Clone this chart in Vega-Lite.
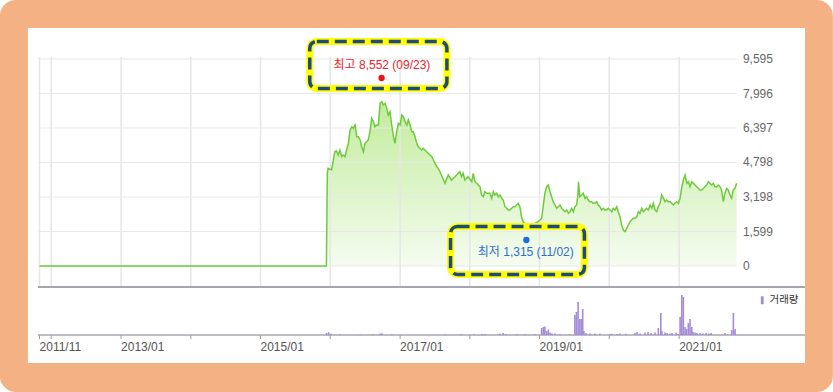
{
  "$schema": "https://vega.github.io/schema/vega-lite/v6.json",
  "width": 767,
  "height": 278,
  "autosize": {"type": "none"},
  "padding": {"left": 38, "top": 57, "right": 28, "bottom": 57},
  "background": "#ffffff",
  "config": {"view": {"stroke": null}, "font": "Liberation Sans", "scale": {"continuousPadding": 0}},
  "datasets": {
    "price": [
      {"d":"2011-11-01","p":0},{"d":"2015-12-12","p":0},{"d":"2015-12-17","p":4311},{"d":"2015-12-21","p":4528},
      {"d":"2016-01-08","p":4450},{"d":"2016-01-16","p":4834},{"d":"2016-01-25","p":5298},{"d":"2016-02-03","p":5344},
      {"d":"2016-02-12","p":5145},{"d":"2016-02-21","p":5377},{"d":"2016-03-01","p":5066},{"d":"2016-03-09","p":5145},
      {"d":"2016-03-18","p":5066},{"d":"2016-03-27","p":5377},{"d":"2016-04-05","p":5687},{"d":"2016-04-14","p":6304},
      {"d":"2016-04-23","p":6457},{"d":"2016-05-01","p":6382},{"d":"2016-05-10","p":6535},{"d":"2016-05-19","p":5993},
      {"d":"2016-05-27","p":5993},{"d":"2016-06-06","p":5840},{"d":"2016-06-14","p":5530},{"d":"2016-06-23","p":5298},
      {"d":"2016-07-01","p":5687},{"d":"2016-07-10","p":5761},{"d":"2016-07-18","p":5840},{"d":"2016-07-27","p":6225},
      {"d":"2016-08-05","p":6846},{"d":"2016-08-14","p":6688},{"d":"2016-08-23","p":6457},{"d":"2016-08-31","p":6535},
      {"d":"2016-09-09","p":6535},{"d":"2016-09-18","p":7541},{"d":"2016-09-27","p":7615},{"d":"2016-10-05","p":7462},
      {"d":"2016-10-14","p":7541},{"d":"2016-10-23","p":7309},{"d":"2016-10-31","p":6999},{"d":"2016-11-09","p":7152},
      {"d":"2016-11-18","p":6535},{"d":"2016-11-27","p":5993},{"d":"2016-12-05","p":5687},{"d":"2016-12-14","p":6225},
      {"d":"2016-12-23","p":6614},{"d":"2017-01-01","p":6535},{"d":"2017-01-10","p":6999},{"d":"2017-01-18","p":6920},
      {"d":"2017-01-27","p":6688},{"d":"2017-02-05","p":6535},{"d":"2017-02-13","p":6767},{"d":"2017-02-22","p":6535},
      {"d":"2017-03-03","p":6225},{"d":"2017-03-11","p":6225},{"d":"2017-03-20","p":5993},{"d":"2017-03-29","p":5687},
      {"d":"2017-04-06","p":5530},{"d":"2017-04-15","p":5455},{"d":"2017-04-24","p":5377},{"d":"2017-05-02","p":5455},
      {"d":"2017-05-11","p":5377},{"d":"2017-05-20","p":5298},{"d":"2017-05-28","p":5224},{"d":"2017-06-07","p":5145},
      {"d":"2017-06-16","p":5066},{"d":"2017-06-24","p":4913},{"d":"2017-07-03","p":4760},{"d":"2017-07-12","p":4603},
      {"d":"2017-07-20","p":4528},{"d":"2017-07-29","p":4371},{"d":"2017-08-24","p":3833},{"d":"2017-09-10","p":4218},
      {"d":"2017-09-27","p":3986},{"d":"2017-10-15","p":4139},{"d":"2017-11-01","p":4297},{"d":"2017-11-10","p":4371},
      {"d":"2017-11-19","p":4139},{"d":"2017-11-27","p":4297},{"d":"2017-12-06","p":3986},{"d":"2017-12-23","p":4139},
      {"d":"2018-01-11","p":3907},{"d":"2018-01-19","p":4297},{"d":"2018-01-28","p":3907},{"d":"2018-02-06","p":3833},
      {"d":"2018-02-23","p":3676},{"d":"2018-03-04","p":3291},{"d":"2018-03-13","p":3212},{"d":"2018-03-21","p":3444},
      {"d":"2018-03-30","p":3370},{"d":"2018-04-16","p":3370},{"d":"2018-04-25","p":3138},{"d":"2018-05-04","p":3444},
      {"d":"2018-05-12","p":3291},{"d":"2018-05-21","p":3370},{"d":"2018-05-30","p":3212},{"d":"2018-06-08","p":3291},
      {"d":"2018-06-17","p":3138},{"d":"2018-06-25","p":3059},{"d":"2018-07-04","p":2749},{"d":"2018-07-13","p":2674},
      {"d":"2018-07-21","p":2596},{"d":"2018-07-30","p":2596},{"d":"2018-08-08","p":2674},{"d":"2018-08-16","p":2749},
      {"d":"2018-08-25","p":2749},{"d":"2018-09-03","p":2827},{"d":"2018-09-11","p":2906},{"d":"2018-09-20","p":2749},
      {"d":"2018-09-29","p":2285},{"d":"2018-10-07","p":2053},{"d":"2018-10-16","p":1979},{"d":"2018-10-27","p":1854},
      {"d":"2018-11-11","p":1808},{"d":"2018-11-29","p":1900},{"d":"2018-12-07","p":1979},{"d":"2018-12-25","p":2053},
      {"d":"2019-01-03","p":2132},{"d":"2019-01-12","p":2211},{"d":"2019-01-20","p":2749},{"d":"2019-01-29","p":3370},
      {"d":"2019-02-07","p":3676},{"d":"2019-02-16","p":3754},{"d":"2019-02-25","p":3444},{"d":"2019-03-05","p":3212},
      {"d":"2019-03-14","p":2980},{"d":"2019-03-23","p":2827},{"d":"2019-04-01","p":2674},{"d":"2019-04-09","p":2749},
      {"d":"2019-04-18","p":2827},{"d":"2019-04-27","p":2674},{"d":"2019-05-06","p":2596},{"d":"2019-05-14","p":2517},
      {"d":"2019-05-23","p":2596},{"d":"2019-06-01","p":2443},{"d":"2019-06-09","p":2517},{"d":"2019-06-18","p":2674},
      {"d":"2019-06-27","p":2517},{"d":"2019-07-05","p":2749},{"d":"2019-07-14","p":2827},{"d":"2019-07-21","p":3291},
      {"d":"2019-07-24","p":3907},{"d":"2019-07-31","p":3212},{"d":"2019-08-10","p":3291},{"d":"2019-08-18","p":3370},
      {"d":"2019-08-27","p":3138},{"d":"2019-09-05","p":3212},{"d":"2019-09-13","p":3059},{"d":"2019-09-22","p":2980},
      {"d":"2019-10-01","p":2980},{"d":"2019-10-09","p":2906},{"d":"2019-10-18","p":2906},{"d":"2019-10-27","p":2980},
      {"d":"2019-11-04","p":2827},{"d":"2019-11-13","p":2749},{"d":"2019-11-22","p":2596},{"d":"2019-12-01","p":2674},
      {"d":"2019-12-09","p":2596},{"d":"2019-12-18","p":2596},{"d":"2019-12-27","p":2674},{"d":"2020-01-05","p":2596},
      {"d":"2020-01-14","p":2517},{"d":"2020-01-22","p":2674},{"d":"2020-01-31","p":2596},{"d":"2020-02-09","p":2749},
      {"d":"2020-02-17","p":2517},{"d":"2020-02-26","p":2285},{"d":"2020-03-06","p":1900},{"d":"2020-03-15","p":1669},
      {"d":"2020-03-24","p":1590},{"d":"2020-04-01","p":1747},{"d":"2020-04-10","p":1900},{"d":"2020-04-19","p":2053},
      {"d":"2020-04-27","p":2132},{"d":"2020-05-06","p":2211},{"d":"2020-05-15","p":2211},{"d":"2020-05-24","p":2285},
      {"d":"2020-06-02","p":2517},{"d":"2020-06-10","p":2443},{"d":"2020-06-19","p":2674},{"d":"2020-06-28","p":2517},
      {"d":"2020-07-06","p":2596},{"d":"2020-07-15","p":2674},{"d":"2020-07-24","p":2596},{"d":"2020-08-02","p":2827},
      {"d":"2020-08-11","p":2674},{"d":"2020-08-19","p":2906},{"d":"2020-08-28","p":2596},{"d":"2020-09-06","p":2517},
      {"d":"2020-09-14","p":2749},{"d":"2020-09-23","p":2906},{"d":"2020-10-02","p":3291},{"d":"2020-10-11","p":3138},
      {"d":"2020-10-19","p":2980},{"d":"2020-10-28","p":3059},{"d":"2020-11-06","p":2980},{"d":"2020-11-14","p":2980},
      {"d":"2020-11-23","p":2906},{"d":"2020-12-02","p":2827},{"d":"2020-12-10","p":2906},{"d":"2020-12-19","p":2980},
      {"d":"2020-12-28","p":2906},{"d":"2021-01-06","p":3138},{"d":"2021-01-15","p":3676},{"d":"2021-01-23","p":3986},
      {"d":"2021-02-01","p":4218},{"d":"2021-02-10","p":3833},{"d":"2021-02-19","p":3907},{"d":"2021-02-27","p":3676},
      {"d":"2021-03-08","p":3907},{"d":"2021-03-16","p":3833},{"d":"2021-03-25","p":3754},{"d":"2021-04-03","p":3676},
      {"d":"2021-04-11","p":3601},{"d":"2021-04-20","p":3523},{"d":"2021-04-29","p":3523},{"d":"2021-05-08","p":3601},
      {"d":"2021-05-16","p":3676},{"d":"2021-05-25","p":3754},{"d":"2021-06-03","p":3907},{"d":"2021-06-11","p":3833},
      {"d":"2021-06-20","p":3754},{"d":"2021-06-29","p":3833},{"d":"2021-07-07","p":3676},{"d":"2021-07-16","p":3676},
      {"d":"2021-07-25","p":3754},{"d":"2021-08-03","p":3676},{"d":"2021-08-11","p":3523},{"d":"2021-08-20","p":2980},
      {"d":"2021-08-29","p":3370},{"d":"2021-09-07","p":3601},{"d":"2021-09-15","p":3523},{"d":"2021-09-24","p":3291},
      {"d":"2021-10-03","p":3138},{"d":"2021-10-11","p":3523},{"d":"2021-10-20","p":3601},{"d":"2021-10-29","p":3833}
    ],
    "volume": [
      {"d":"2015-12-13","v":20000},{"d":"2015-12-24","v":28000},{"d":"2016-01-05","v":15000},{"d":"2016-02-21","v":8000},
      {"d":"2016-06-06","v":6000},{"d":"2016-08-13","v":10000},{"d":"2016-09-18","v":14000},{"d":"2016-09-28","v":18000},
      {"d":"2016-11-19","v":8000},{"d":"2017-08-24","v":8000},{"d":"2017-11-16","v":9000},{"d":"2018-01-23","v":7000},
      {"d":"2018-03-06","v":10000},{"d":"2018-03-21","v":9000},{"d":"2018-06-08","v":12000},{"d":"2018-06-24","v":20000},
      {"d":"2018-07-09","v":10000},{"d":"2018-09-05","v":9000},{"d":"2018-10-17","v":9000},{"d":"2018-12-08","v":10000},
      {"d":"2019-01-12","v":70000},{"d":"2019-01-21","v":80000},{"d":"2019-01-29","v":85000},{"d":"2019-02-07","v":40000},
      {"d":"2019-02-16","v":55000},{"d":"2019-02-25","v":25000},{"d":"2019-03-07","v":15000},{"d":"2019-03-23","v":14000},
      {"d":"2019-04-18","v":10000},{"d":"2019-06-09","v":9000},{"d":"2019-07-05","v":200000},{"d":"2019-07-13","v":230000},
      {"d":"2019-07-22","v":330000},{"d":"2019-07-31","v":160000},{"d":"2019-08-08","v":160000},{"d":"2019-08-15","v":260000},
      {"d":"2019-08-21","v":40000},{"d":"2019-09-01","v":20000},{"d":"2019-09-22","v":15000},{"d":"2019-10-18","v":14000},
      {"d":"2019-11-13","v":12000},{"d":"2020-01-05","v":10000},{"d":"2020-01-15","v":12000},{"d":"2020-02-10","v":9000},
      {"d":"2020-02-26","v":15000},{"d":"2020-03-28","v":12000},{"d":"2020-05-15","v":20000},{"d":"2020-05-26","v":30000},
      {"d":"2020-06-10","v":15000},{"d":"2020-07-06","v":25000},{"d":"2020-07-22","v":30000},{"d":"2020-08-07","v":20000},
      {"d":"2020-08-28","v":25000},{"d":"2020-09-14","v":70000},{"d":"2020-09-27","v":220000},{"d":"2020-10-03","v":40000},
      {"d":"2020-10-19","v":25000},{"d":"2020-10-30","v":20000},{"d":"2020-11-14","v":15000},{"d":"2020-11-25","v":20000},
      {"d":"2020-12-16","v":25000},{"d":"2020-12-26","v":10000},{"d":"2021-01-06","v":180000},{"d":"2021-01-15","v":400000},
      {"d":"2021-01-23","v":380000},{"d":"2021-02-01","v":80000},{"d":"2021-02-09","v":60000},{"d":"2021-02-18","v":120000},
      {"d":"2021-02-27","v":160000},{"d":"2021-03-08","v":80000},{"d":"2021-03-15","v":30000},{"d":"2021-03-25","v":25000},
      {"d":"2021-04-04","v":20000},{"d":"2021-04-20","v":20000},{"d":"2021-05-06","v":15000},{"d":"2021-05-22","v":20000},
      {"d":"2021-06-07","v":15000},{"d":"2021-06-17","v":20000},{"d":"2021-08-29","v":20000},{"d":"2021-10-03","v":50000},
      {"d":"2021-10-12","v":220000},{"d":"2021-10-21","v":60000}
    ],
    "yticks": [{"v":0},{"v":1599},{"v":3198},{"v":4798},{"v":6397},{"v":7996},{"v":9595}],
    "xticks": [{"t":"2011-11-01"},{"t":"2012-01-01"},{"t":"2013-01-01"},{"t":"2014-01-01"},{"t":"2015-01-01"},{"t":"2016-01-01"},{"t":"2017-01-01"},{"t":"2018-01-01"},{"t":"2019-01-01"},{"t":"2020-01-01"},{"t":"2021-01-01"}]
  },
  "resolve": {"scale": {"y": "independent"}},
  "layer": [
    {
      "data": {"values": [{}]},
      "mark": {"type": "rect", "fill": "#f4b183", "cornerRadius": 16},
      "encoding": {
        "x": {"datum": {"year": 2011, "month": 4, "date": 7}, "type": "temporal", "axis": null,
          "scale": {"domain": [{"year": 2011, "month": 10, "date": 24}, {"year": 2022, "month": 10, "date": 22}], "padding": 0}},
        "x2": {"datum": {"year": 2023, "month": 3, "date": 17}},
        "y": {"datum": 12329, "type": "quantitative", "axis": null, "scale": {"domain": [-3198, 9688], "nice": false, "zero": false}},
        "y2": {"datum": -5840}
      }
    },
    {
      "data": {"values": [{}]},
      "mark": {"type": "rect", "fill": "#ffffff"},
      "encoding": {
        "x": {"datum": {"year": 2011, "month": 9, "date": 1}, "type": "temporal", "axis": null},
        "x2": {"datum": {"year": 2022, "month": 10, "date": 22}},
        "y": {"datum": 11031, "type": "quantitative", "axis": null, "scale": {"domain": [-3198, 9688], "nice": false, "zero": false}},
        "y2": {"datum": -4496}
      }
    },
    {
      "data": {"name": "price"},
      "mark": {"type": "area", "color": {"gradient": "linear", "x1": 0, "y1": 0, "x2": 0, "y2": 1, "stops": [{"offset": 0, "color": "#c2ec9c"}, {"offset": 1, "color": "#f5fcf0"}]}},
      "encoding": {
        "x": {"field": "d", "type": "temporal", "axis": null},
        "y": {"field": "p", "type": "quantitative", "axis": null, "scale": {"domain": [-3198, 9688], "nice": false, "zero": false}},
        "y2": {"datum": 0}
      }
    },
    {
      "data": {"name": "xticks"},
      "mark": {"type": "rule", "stroke": "#e6e6e6", "strokeWidth": 1.5},
      "encoding": {
        "x": {"field": "t", "type": "temporal", "axis": null},
        "y": {"datum": -973, "type": "quantitative", "axis": null, "scale": {"domain": [-3198, 9688], "nice": false, "zero": false}},
        "y2": {"datum": 9688}
      }
    },
    {
      "data": {"name": "yticks"},
      "mark": {"type": "rule", "stroke": "#e8e8e8", "strokeWidth": 1},
      "encoding": {
        "y": {"field": "v", "type": "quantitative", "axis": null, "scale": {"domain": [-3198, 9688], "nice": false, "zero": false}},
        "x": {"datum": {"year": 2011, "month": 10, "date": 24}, "type": "temporal", "axis": null},
        "x2": {"datum": {"year": 2021, "month": 10, "date": 29}}
      }
    },
    {
      "data": {"values": [{}]},
      "mark": {"type": "rule", "stroke": "#a6a6ae", "strokeWidth": 2},
      "encoding": {
        "y": {"datum": -973, "type": "quantitative", "axis": null, "scale": {"domain": [-3198, 9688], "nice": false, "zero": false}},
        "x": {"datum": {"year": 2011, "month": 10, "date": 24}, "type": "temporal", "axis": null},
        "x2": {"datum": {"year": 2022, "month": 10, "date": 22}}
      }
    },
    {
      "data": {"name": "price"},
      "mark": {"type": "line", "stroke": "#6dcb3b", "strokeWidth": 1.5},
      "encoding": {
        "x": {"field": "d", "type": "temporal", "axis": null},
        "y": {"field": "p", "type": "quantitative", "axis": null, "scale": {"domain": [-3198, 9688], "nice": false, "zero": false}}
      }
    },
    {
      "data": {"values": [{"box": "high"}, {"box": "low"}]},
      "transform": [{"filter": "datum.box == 'high'"}],
      "layer": [
        {"mark": {"type": "rect", "fill": "transparent", "stroke": "#ffff00", "strokeWidth": 7, "cornerRadius": 7}},
        {"mark": {"type": "rect", "fill": "transparent", "stroke": "#1f4a7c", "strokeWidth": 3.5, "strokeDash": [12, 6], "cornerRadius": 7}}
      ],
      "encoding": {
        "x": {"datum": {"year": 2015, "month": 9, "date": 16}, "type": "temporal", "axis": null},
        "x2": {"datum": {"year": 2017, "month": 9, "date": 3}},
        "y": {"datum": 10405, "type": "quantitative", "axis": null, "scale": {"domain": [-3198, 9688], "nice": false, "zero": false}},
        "y2": {"datum": 8227}
      }
    },
    {
      "data": {"values": [{"box": "high"}, {"box": "low"}]},
      "transform": [{"filter": "datum.box == 'low'"}],
      "layer": [
        {"mark": {"type": "rect", "fill": "transparent", "stroke": "#ffff00", "strokeWidth": 7, "cornerRadius": 7}},
        {"mark": {"type": "rect", "fill": "transparent", "stroke": "#1f4a7c", "strokeWidth": 3.5, "strokeDash": [12, 6], "cornerRadius": 7}}
      ],
      "encoding": {
        "x": {"datum": {"year": 2017, "month": 9, "date": 22}, "type": "temporal", "axis": null},
        "x2": {"datum": {"year": 2019, "month": 8, "date": 24}},
        "y": {"datum": 1831, "type": "quantitative", "axis": null, "scale": {"domain": [-3198, 9688], "nice": false, "zero": false}},
        "y2": {"datum": -394}
      }
    },
    {
      "data": {"values": [{"label": "최고 8,552 (09/23)"}]},
      "mark": {"type": "text", "color": "#e8262b", "font": "Liberation Sans, Noto Sans CJK KR", "fontSize": 12, "align": "center", "baseline": "middle"},
      "encoding": {
        "x": {"datum": {"year": 2016, "month": 9, "date": 28}, "type": "temporal", "axis": null},
        "y": {"datum": 9316, "type": "quantitative", "axis": null, "scale": {"domain": [-3198, 9688], "nice": false, "zero": false}},
        "text": {"field": "label"}
      }
    },
    {
      "data": {"values": [{"label": "최고"}]},
      "mark": {"type": "point", "filled": true, "color": "#ee1111", "size": 40, "opacity": 1},
      "encoding": {
        "x": {"datum": {"year": 2016, "month": 9, "date": 26}, "type": "temporal", "axis": null},
        "y": {"datum": 8714, "type": "quantitative", "axis": null, "scale": {"domain": [-3198, 9688], "nice": false, "zero": false}}
      }
    },
    {
      "data": {"values": [{"label": "최저 1,315 (11/02)"}]},
      "mark": {"type": "text", "color": "#2d6fd2", "font": "Liberation Sans, Noto Sans CJK KR", "fontSize": 12, "align": "center", "baseline": "middle"},
      "encoding": {
        "x": {"datum": {"year": 2018, "month": 10, "date": 21}, "type": "temporal", "axis": null},
        "y": {"datum": 649, "type": "quantitative", "axis": null, "scale": {"domain": [-3198, 9688], "nice": false, "zero": false}},
        "text": {"field": "label"}
      }
    },
    {
      "data": {"values": [{"label": "최저"}]},
      "mark": {"type": "point", "filled": true, "color": "#1a6be0", "size": 40, "opacity": 1},
      "encoding": {
        "x": {"datum": {"year": 2018, "month": 10, "date": 24}, "type": "temporal", "axis": null},
        "y": {"datum": 1205, "type": "quantitative", "axis": null, "scale": {"domain": [-3198, 9688], "nice": false, "zero": false}}
      }
    },
    {
      "data": {"name": "yticks"},
      "mark": {"type": "text", "align": "left", "baseline": "middle", "font": "Liberation Sans", "fontSize": 12, "color": "#666666"},
      "encoding": {
        "y": {"field": "v", "type": "quantitative", "axis": null, "scale": {"domain": [-3198, 9688], "nice": false, "zero": false}},
        "x": {"datum": {"year": 2021, "month": 12, "date": 1}, "type": "temporal", "axis": null},
        "text": {"field": "v", "type": "quantitative", "format": ","}
      }
    },
    {
      "data": {"name": "xticks"},
      "mark": {"type": "rule", "stroke": "#9a9aa2", "strokeWidth": 1},
      "encoding": {
        "x": {"field": "t", "type": "temporal", "axis": null},
        "y": {"datum": -3198, "type": "quantitative", "axis": null, "scale": {"domain": [-3198, 9688], "nice": false, "zero": false}},
        "y2": {"datum": -3383}
      }
    },
    {
      "data": {"values": [{}]},
      "mark": {"type": "rule", "stroke": "#a6a6ae", "strokeWidth": 1.5},
      "encoding": {
        "y": {"datum": -3198, "type": "quantitative", "axis": null, "scale": {"domain": [-3198, 9688], "nice": false, "zero": false}},
        "x": {"datum": {"year": 2011, "month": 10, "date": 24}, "type": "temporal", "axis": null},
        "x2": {"datum": {"year": 2022, "month": 10, "date": 22}}
      }
    },
    {
      "data": {"name": "xticks"},
      "transform": [{"filter": "year(datum.t) % 2 == 1"}],
      "mark": {"type": "text", "align": "left", "baseline": "top", "font": "Liberation Sans", "fontSize": 12, "color": "#555555"},
      "encoding": {
        "x": {"field": "t", "type": "temporal", "axis": null},
        "y": {"datum": -3520, "type": "quantitative", "axis": null, "scale": {"domain": [-3198, 9688], "nice": false, "zero": false}},
        "text": {"field": "t", "type": "temporal", "format": "%Y/%m"}
      }
    },
    {
      "data": {"name": "volume"},
      "mark": {"type": "bar", "width": 1.6},
      "encoding": {
        "x": {"field": "d", "type": "temporal", "axis": null},
        "y": {"field": "v", "type": "quantitative", "axis": null, "scale": {"domain": [0, 2780000], "nice": false}},
        "color": {"datum": "거래량", "type": "nominal", "scale": {"range": ["#a48bd8"]},
          "legend": {"orient": "none", "legendX": 719, "legendY": 238, "title": null, "padding": 0, "symbolType": "M-0.35,-1H0.35V1H-0.35Z", "symbolSize": 64, "symbolOffset": 0, "labelOffset": 2, "labelFont": "Noto Sans CJK KR", "labelFontSize": 10.5, "labelColor": "#333333"}}
      }
    }
  ]
}
